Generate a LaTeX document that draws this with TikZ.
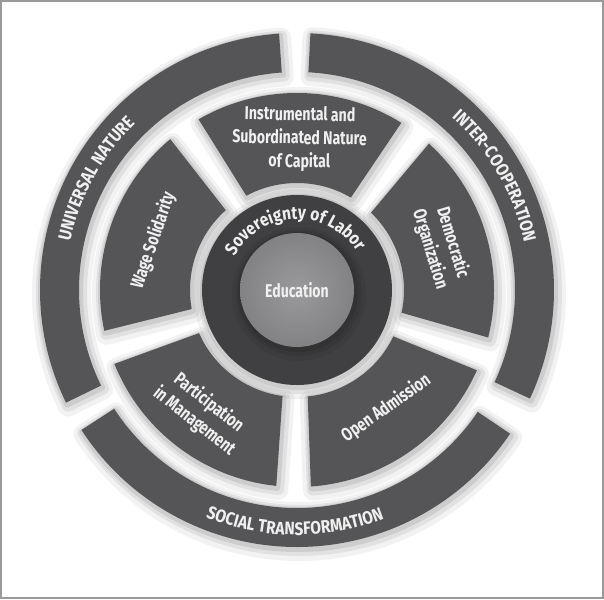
\documentclass[tikz,border=0pt]{standalone}
\usepackage{fontspec}
\newfontfamily\labfont[FakeStretch=0.76]{Fira Sans}
\newfontfamily\ringfont[FakeStretch=0.86]{Fira Sans}
\usetikzlibrary{decorations.text}
\definecolor{segc}{HTML}{555557}
\definecolor{corec}{HTML}{404042}
\definecolor{hubin}{HTML}{9A9A9C}
\definecolor{hubout}{HTML}{828284}
\definecolor{ink}{HTML}{F0F0F0}
\definecolor{rimc}{HTML}{9A9A9A}
% sector from angle #1 to #2, radii #3 (in) and #4 (out), gaps cut off both sides
\newcommand\wedgepath[4]{%
  ({#1+\ga+asin(\gd/#4)}:#4pt) arc[start angle={#1+\ga+asin(\gd/#4)}, end angle={#2-\ga-asin(\gd/#4)}, radius=#4pt]
  -- ({#2-\ga-asin(\gd/#3)}:#3pt) arc[start angle={#2-\ga-asin(\gd/#3)}, end angle={#1+\ga+asin(\gd/#3)}, radius=#3pt] -- cycle}
\newcommand\bandpath[4]{%
  (#1:#4pt) arc[start angle=#1, end angle=#2, radius=#4pt] -- (#2:#3pt) arc[start angle=#2, end angle=#1, radius=#3pt] -- cycle}
\newcommand\ringtext{\ringfont\bfseries\fontsize{18}{18}\selectfont}
\tikzset{
  halo/.style={
    preaction={draw=black, opacity=0.05, line width=20pt, line join=round, transform canvas={shift={(2pt,-4pt)}}},
    preaction={draw=black, opacity=0.07, line width=12pt, line join=round, transform canvas={shift={(2pt,-3pt)}}},
    preaction={draw=black, opacity=0.09, line width=6pt, line join=round, transform canvas={shift={(1pt,-2pt)}}}},
  segfill/.style={fill=segc},
  corefill/.style={fill=corec},
  hubfill/.style={inner color=hubin, outer color=hubout},
  edgebox/.style={draw=rimc, line width=2pt},
  lab/.style={text=ink, align=center, font=\labfont\bfseries\fontsize{18.5}{23.5}\selectfont},
  arclab/.style={decorate, decoration={text along path, text color=ink, text align=center, text={|\ringtext|#1}}},
}
\begin{document}
\begin{tikzpicture}[x=1pt, y=1pt]
  \def\gd{7}
  \def\ga{3}
  \coordinate (O) at (0,0);
  \useasboundingbox (-297,-309) rectangle (307,290);
  \draw[edgebox] (-296,-307.5) rectangle (305.5,289);

  % shadows first
  \foreach \a/\b in {94/206, -25/87, 213/326}
    \path[halo] \bandpath{\a}{\b}{218}{257};
  \foreach \a/\b in {53/125, -19/53, -91/-19, -163/-91, 125/197}
    \path[halo] \wedgepath{\a}{\b}{107}{197};
  \path[halo] (O) circle (95pt);

  % outer bands
  \foreach \a/\b in {94/206, -25/87, 213/326}
    \fill[segfill] \bandpath{\a}{\b}{218}{257};
  % middle wedges
  \foreach \a/\b in {53/125, -19/53, -91/-19, -163/-91, 125/197}
    \fill[segfill] \wedgepath{\a}{\b}{107}{197};
  % core ring and hub
  \fill[corefill] (O) circle (95pt);
  \path[halo] (O) circle (57pt);
  \shade[hubfill] (O) circle (57pt);

  \node[lab] (edu) at (O) {Education};
  \node[lab, rotate=-1] (instr) at (89:151pt) {Instrumental and\\Subordinated Nature\\of Capital};
  \node[lab, rotate=-73] (demo) at (17:151pt) {Democratic\\Organization};
  \node[lab, rotate=35] (open) at (-53:148pt) {Open Admission};
  \node[lab, rotate=-38] (part) at (-128:155pt) {Participation\\in Management};
  \node[lab, rotate=71] (wage) at (161:152pt) {Wage Solidarity};

  \path[arclab={Sovereignty of Labor}] (165:71pt) arc[start angle=165, end angle=19, radius=71pt];
  \path[arclab={UNIVERSAL NATURE}] (200:232pt) arc[start angle=200, end angle=102, radius=232pt];
  \path[arclab={INTER-COOPERATION}] (80:232pt) arc[start angle=80, end angle=-20, radius=232pt];
  \path[arclab={SOCIAL TRANSFORMATION}] (220:245pt) arc[start angle=220, end angle=319, radius=245pt];
\end{tikzpicture}
\end{document}
